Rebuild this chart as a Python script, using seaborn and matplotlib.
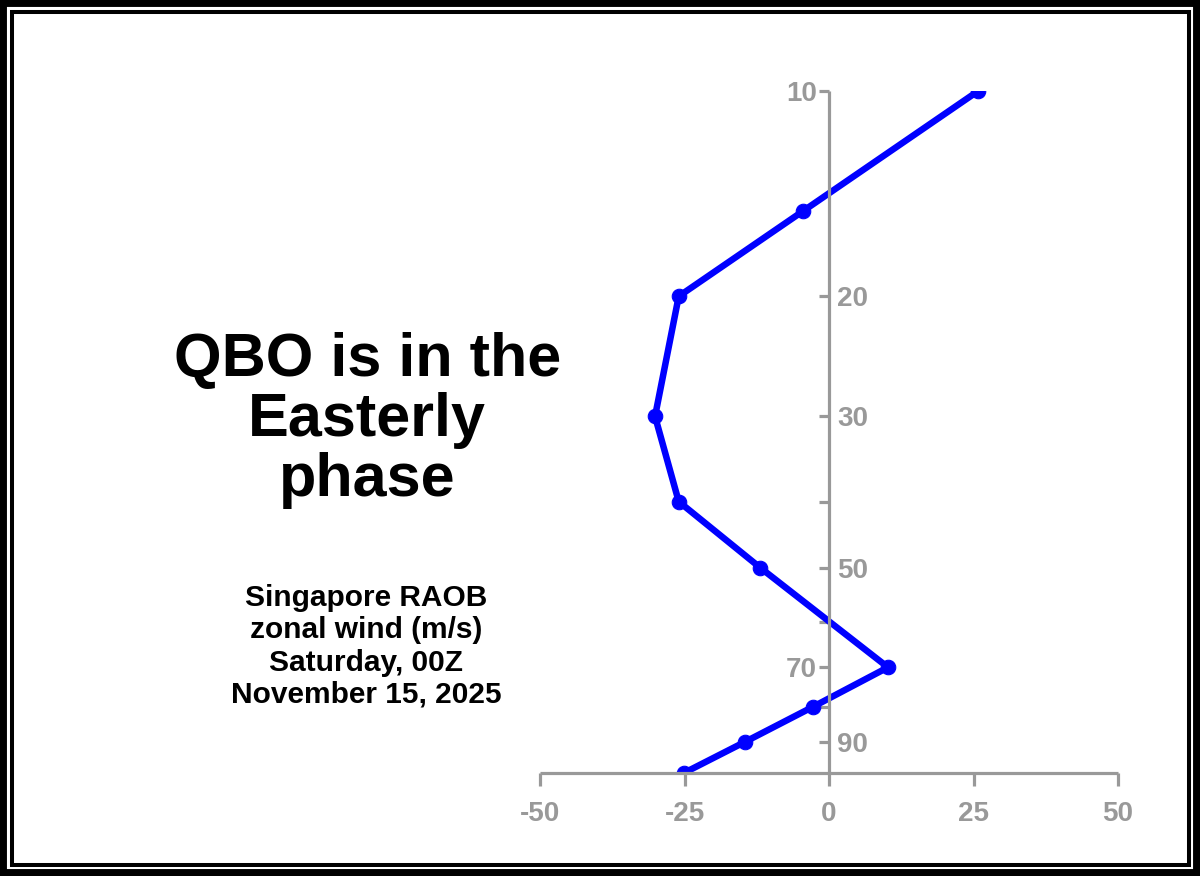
import matplotlib
matplotlib.use("Agg")
import matplotlib.pyplot as plt
import matplotlib.patches as patches
import seaborn as sns
import pandas as pd

# Singapore RAOB zonal wind profile
pressure = [10, 15, 20, 30, 40, 50, 70, 80, 90, 100]
wind = [25.8, -4.5, -26.0, -30.1, -26.0, -11.9, 10.2, -2.8, -14.5, -25.1]

x_ticks = [-50, -25, 0, 25, 50]
y_ticks = [10, 20, 30, 40, 50, 60, 70, 80, 90]
y_labels_left = [10, 70]
y_labels_right = [20, 30, 50, 90]

title_text = "QBO is in the\nEasterly\nphase"
info_text = "Singapore RAOB\nzonal wind (m/s)\nSaturday, 00Z\nNovember 15, 2025"

df = pd.DataFrame({"pressure": pressure, "wind": wind})

sns.set_style("white")
plt.rcParams["font.family"] = ["Liberation Sans", "DejaVu Sans"]
plt.rcParams["text.color"] = "black"

gray = "#999999"

fig = plt.figure(figsize=(12, 8.76), dpi=100)
ax = fig.add_axes([0.45, 0.1176, 0.4817, 0.7785])

sns.lineplot(data=df, x="wind", y="pressure", sort=False, estimator=None,
             ax=ax, color="#0000ff", linewidth=4.7, marker="o",
             markersize=10.5, markeredgecolor="#0000ff")

ax.set_yscale("log")
ax.set_xlim(-50, 50)
ax.set_ylim(100, 10)
ax.set_xlabel("")
ax.set_ylabel("")

# axes look
for side in ["top", "right"]:
    ax.spines[side].set_visible(False)
ax.spines["left"].set_position(("data", 0))
for side in ["left", "bottom"]:
    ax.spines[side].set_color(gray)
    ax.spines[side].set_linewidth(2.3)
    ax.spines[side].set_capstyle("butt")

ax.set_xticks(x_ticks)
ax.set_xticklabels([str(v) for v in x_ticks])
ax.tick_params(axis="x", bottom=True, direction="out", length=9, width=2.3,
               color=gray, labelcolor=gray, labelsize=20, pad=11)

ax.yaxis.set_minor_locator(matplotlib.ticker.NullLocator())
ax.set_yticks(y_ticks)
ax.set_yticklabels([str(v) if v in y_labels_left else "" for v in y_ticks])
ax.tick_params(axis="y", left=True, direction="out", length=7.5, width=2.3,
               color=gray, labelcolor=gray, labelsize=20, pad=1)
for lab in ax.get_xticklabels() + ax.get_yticklabels():
    lab.set_fontweight("bold")

# labels on the right side of the centre axis
sec = ax.secondary_yaxis(0.5)
sec.yaxis.set_minor_locator(matplotlib.ticker.NullLocator())
sec.set_yticks(y_labels_right)
sec.set_yticklabels([str(v) for v in y_labels_right])
sec.tick_params(axis="y", which="both", length=0, labelcolor=gray,
                labelsize=20, pad=6, left=False, right=True,
                labelleft=False, labelright=True)
for sp in sec.spines.values():
    sp.set_visible(False)
for lab in sec.get_yticklabels():
    lab.set_fontweight("bold")

# texts
fig.text(0.306, 0.52, title_text, ha="center", va="center",
         fontsize=44, fontweight="bold", linespacing=1.06, color="black")
fig.text(0.305, 0.262, info_text, ha="center", va="center",
         fontsize=21.5, fontweight="bold", linespacing=1.19, color="black")

# double border
fig.add_artist(patches.Rectangle((0, 0), 1, 1, fill=False, edgecolor="black",
                                 linewidth=10, transform=fig.transFigure))
fig.add_artist(patches.Rectangle((11.5 / 1200, 11.5 / 876),
                                 1 - 23 / 1200, 1 - 23 / 876, fill=False,
                                 edgecolor="black", linewidth=2.9,
                                 transform=fig.transFigure))

fig.savefig("out.png", dpi=100)
